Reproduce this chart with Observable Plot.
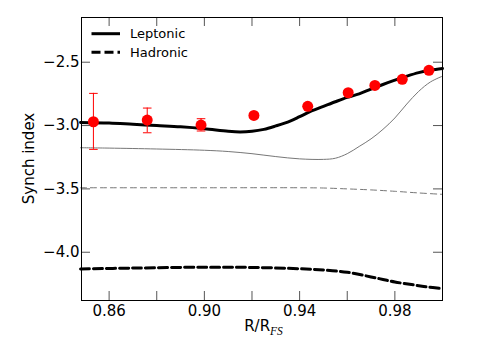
<!DOCTYPE html>
<html><head><meta charset="utf-8">
<script src="https://cdn.jsdelivr.net/npm/d3@7"></script>
<script src="https://cdn.jsdelivr.net/npm/@observablehq/plot@0.6"></script>
<style>
body{margin:0;background:#fff}
</style>
</head><body><div id="chart"></div>
<script>
// Observations (red points with error bars)
const obsR    = [0.8534, 0.876, 0.8986, 0.9208, 0.9434, 0.9604, 0.9716, 0.9831, 0.9943];
const obsIdx  = [-2.97, -2.957, -2.996, -2.92, -2.848, -2.741, -2.683, -2.635, -2.564];
const obsLow  = [-3.188, -3.057, -3.043, -2.94, -2.866, -2.759, -2.701, -2.653, -2.584];
const obsHigh = [-2.746, -2.862, -2.946, -2.90, -2.830, -2.723, -2.665, -2.617, -2.544];

// Leptonic (thick black solid)
const lepR = [0.848, 0.86, 0.87, 0.88, 0.89, 0.90, 0.91, 0.915, 0.92, 0.925, 0.93, 0.936, 0.94, 0.945, 0.95, 0.955, 0.96, 0.965, 0.97, 0.975, 0.98, 0.985, 0.99, 0.995, 1.0];
const lepIdx = [-2.975, -2.98, -2.99, -3.0, -3.01, -3.025, -3.045, -3.05, -3.045, -3.03, -3.003, -2.965, -2.93, -2.885, -2.848, -2.812, -2.778, -2.75, -2.712, -2.676, -2.642, -2.61, -2.582, -2.562, -2.549];

// Thin grey solid
const greyR = [0.848, 0.86, 0.88, 0.90, 0.91, 0.92, 0.93, 0.94, 0.95, 0.955, 0.96, 0.965, 0.97, 0.975, 0.98, 0.985, 0.99, 0.995, 1.0];
const greyIdx = [-3.175, -3.178, -3.185, -3.195, -3.205, -3.222, -3.245, -3.263, -3.267, -3.258, -3.222, -3.165, -3.105, -3.03, -2.94, -2.83, -2.73, -2.655, -2.61];

// Thin grey dashed
const greyDashR = [0.848, 0.90, 0.94, 0.95, 0.96, 0.97, 0.98, 0.99, 1.0];
const greyDashIdx = [-3.491, -3.491, -3.491, -3.493, -3.5, -3.508, -3.519, -3.532, -3.543];

// Hadronic (thick black dashed)
const hadR = [0.848, 0.87, 0.90, 0.92, 0.94, 0.95, 0.96, 0.97, 0.975, 0.98, 0.987, 0.993, 1.0];
const hadIdx = [-4.132, -4.125, -4.118, -4.12, -4.13, -4.14, -4.158, -4.195, -4.215, -4.235, -4.255, -4.272, -4.288];

const xMajor = [0.86, 0.90, 0.94, 0.98];
const xAllTicks = [0.86, 0.88, 0.90, 0.92, 0.94, 0.96, 0.98, 1.00];
const yTicks = [-2.5, -3.0, -3.5, -4.0];

const W = 491, H = 354, mL = 81, mR = 49, mT = 17, mB = 54;
const pw = W - mL - mR, ph = H - mT - mB;
const tickLen = 9;

const obs = obsR.map((r, i) => ({r, v: obsIdx[i], lo: obsLow[i], hi: obsHigh[i]}));
const toRows = (xs, ys) => xs.map((x, i) => ({x, y: ys[i]}));

const capSymbol = {draw(ctx, size) { const r = Math.sqrt(size / Math.PI); ctx.moveTo(-r, 0); ctx.lineTo(r, 0); }};

const chart = Plot.plot({
  width: W, height: H,
  marginLeft: mL, marginRight: mR, marginTop: mT, marginBottom: mB,
  style: {fontFamily: "'DejaVu Sans', sans-serif", fontSize: "15px", color: "#000", background: "#fff"},
  x: {domain: [0.8484, 1.0]},
  y: {domain: [-4.381, -2.147]},
  marks: [
    Plot.line(toRows(greyR, greyIdx), {x: "x", y: "y", stroke: "#777", strokeWidth: 1, curve: "catmull-rom"}),
    Plot.line(toRows(greyDashR, greyDashIdx), {x: "x", y: "y", stroke: "#777", strokeWidth: 1, strokeDasharray: "6,4", curve: "catmull-rom"}),
    Plot.line(toRows(lepR, lepIdx), {x: "x", y: "y", stroke: "#000", strokeWidth: 3, curve: "catmull-rom"}),
    Plot.line(toRows(hadR, hadIdx), {x: "x", y: "y", stroke: "#000", strokeWidth: 3, strokeDasharray: "9,4", curve: "catmull-rom"}),
    Plot.ruleX(obs, {x: "r", y1: "lo", y2: "hi", stroke: "red", strokeWidth: 1}),
    Plot.dot(obs, {x: "r", y: "lo", symbol: capSymbol, r: 4.3, stroke: "red", fill: "none", strokeWidth: 1}),
    Plot.dot(obs, {x: "r", y: "hi", symbol: capSymbol, r: 4.3, stroke: "red", fill: "none", strokeWidth: 1}),
    Plot.dot(obs, {x: "r", y: "v", r: 5.5, fill: "red", stroke: "none"}),
    // inward ticks
    Plot.tickX(xAllTicks, {x: d => d, insetTop: ph - tickLen, stroke: "#555", strokeWidth: 1}),
    Plot.tickX(xAllTicks, {x: d => d, insetBottom: ph - tickLen, stroke: "#555", strokeWidth: 1}),
    Plot.tickY(yTicks, {y: d => d, insetRight: pw - tickLen, stroke: "#555", strokeWidth: 1}),
    Plot.tickY(yTicks, {y: d => d, insetLeft: pw - tickLen, stroke: "#555", strokeWidth: 1}),
    Plot.axisX(xMajor, {tickSize: 0, tickPadding: 5, tickFormat: d3.format(".2f"), fontSize: 15, label: null}),
    Plot.axisY(yTicks, {tickSize: 0, tickPadding: 2, tickFormat: d3.format(".1f"), fontSize: 15, label: null}),
    Plot.frame({stroke: "#000", strokeWidth: 1})
  ]
});

const svg = d3.select(chart);
// y-axis label
svg.append("text")
  .attr("transform", `translate(34,${mT + ph / 2}) rotate(-90)`)
  .attr("text-anchor", "middle")
  .attr("font-size", 15)
  .attr("fill", "#000")
  .text("Synch index");
// x-axis label with italic subscript
const xl = svg.append("text")
  .attr("x", mL + pw / 2 + 2).attr("y", 331)
  .attr("text-anchor", "middle")
  .attr("font-size", 15)
  .attr("fill", "#000");
xl.append("tspan").text("R/R");
xl.append("tspan").attr("font-family", "'Liberation Serif',serif").attr("font-style", "italic")
  .attr("font-size", 11.5).attr("dy", 4).text("FS");
// legend
const lg = svg.append("g");
const items = [{label: "Leptonic", dash: null, y: 33.7}, {label: "Hadronic", dash: "9,4", y: 52.3}];
items.forEach(it => {
  lg.append("line").attr("x1", 91.5).attr("x2", 120).attr("y1", it.y).attr("y2", it.y)
    .attr("stroke", "#000").attr("stroke-width", 3).attr("stroke-dasharray", it.dash);
  lg.append("text").attr("x", 130).attr("y", it.y).attr("dy", "0.35em")
    .attr("text-anchor", "start")
    .attr("font-size", 13).attr("fill", "#000").text(it.label);
});

document.getElementById("chart").appendChild(chart);
</script>
</body></html>
